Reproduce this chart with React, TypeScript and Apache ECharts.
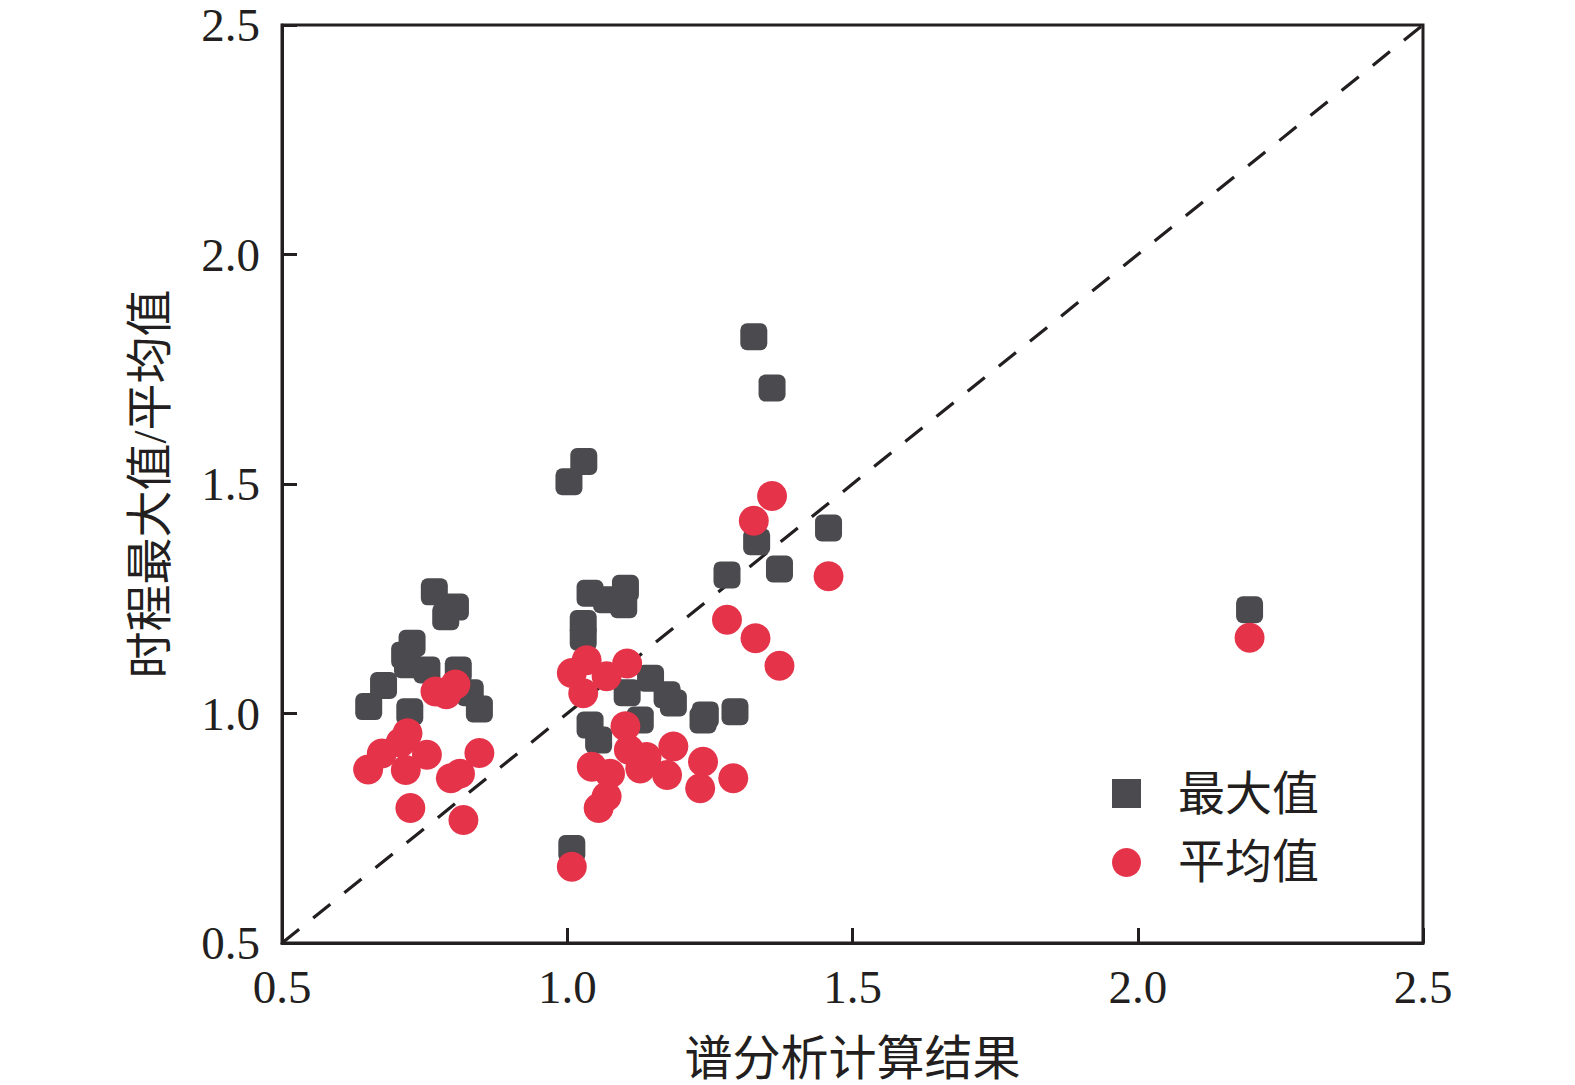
import React, { useEffect, useRef } from "react";
import * as echarts from "echarts";

const xTicks = [0.5, 1.0, 1.5, 2.0, 2.5];
const seriesNames = ["最大值", "平均值"];

const maxValues: [number, number][] = [
  [0.652, 1.015], [0.678, 1.061], [0.715, 1.127], [0.720, 1.106], [0.728, 1.153],
  [0.724, 1.004], [0.754, 1.095], [0.767, 1.265], [0.787, 1.211], [0.804, 1.232],
  [0.809, 1.095], [0.830, 1.045], [0.846, 1.010],
  [1.003, 1.505], [1.029, 1.549], [1.008, 0.706], [1.028, 1.196], [1.028, 1.166],
  [1.040, 1.262], [1.069, 1.248], [1.102, 1.273], [1.099, 1.237], [1.040, 0.975],
  [1.055, 0.942], [1.105, 1.045], [1.128, 0.986], [1.146, 1.077], [1.175, 1.041],
  [1.186, 1.023], [1.238, 0.986], [1.242, 0.997], [1.294, 1.004], [1.280, 1.302],
  [1.327, 1.821], [1.359, 1.709], [1.332, 1.374], [1.372, 1.315], [1.458, 1.404],
  [2.196, 1.226],
];

const meanValues: [number, number][] = [
  [0.651, 0.878], [0.675, 0.913], [0.717, 0.877], [0.720, 0.957], [0.708, 0.937],
  [0.754, 0.910], [0.725, 0.794], [0.769, 1.048], [0.788, 1.042], [0.804, 1.063],
  [0.796, 0.859], [0.812, 0.869], [0.818, 0.768], [0.846, 0.914],
  [1.008, 0.666], [1.008, 1.088], [1.034, 1.116], [1.028, 1.044], [1.069, 1.081],
  [1.105, 1.109], [1.102, 0.972], [1.108, 0.921], [1.043, 0.884], [1.075, 0.869],
  [1.128, 0.880], [1.139, 0.905], [1.186, 0.928], [1.175, 0.866], [1.238, 0.895],
  [1.233, 0.837], [1.291, 0.859], [1.069, 0.819], [1.055, 0.794], [1.280, 1.204],
  [1.330, 1.164], [1.372, 1.104], [1.327, 1.420], [1.359, 1.474], [1.458, 1.299],
  [2.196, 1.165],
];

const refLine: [number, number][] = [[0.5, 0.5], [2.5, 2.5]];

const SERIF = "'Liberation Serif', 'Times New Roman', 'Noto Sans CJK SC', serif";
const INK = "#231f20";

export default function App() {
  const ref = useRef<HTMLDivElement>(null);
  useEffect(() => {
    document.body.style.margin = "0";
    document.body.style.overflow = "hidden";
    if (!ref.current) return;
    const chart = echarts.init(ref.current, null, { renderer: "svg" });
    chart.setOption({
      animation: false,
      backgroundColor: "#fff",
      grid: {
        left: 282, right: 152, top: 25, bottom: 142,
        outerBoundsMode: "none", containLabel: false,
        show: true, borderColor: INK, borderWidth: 3, backgroundColor: "transparent",
      },
      xAxis: {
        type: "value", min: 0.5, max: 2.5, interval: 0.5,
        name: "谱分析计算结果", nameLocation: "middle", nameGap: 95,
        nameTextStyle: { fontFamily: SERIF, fontSize: 48, lineHeight: 40, color: INK },
        axisLine: { show: true, lineStyle: { color: INK, width: 3 } },
        axisTick: { show: true, inside: true, length: 15, lineStyle: { color: INK, width: 3 } },
        axisLabel: {
          fontFamily: SERIF, fontSize: 47, lineHeight: 40, color: INK, margin: 24,
          formatter: (v: number) => v.toFixed(1),
        },
        splitLine: { show: false },
      },
      yAxis: {
        type: "value", min: 0.5, max: 2.5, interval: 0.5,
        name: "时程最大值/平均值", nameLocation: "middle", nameGap: 112,
        nameTextStyle: { fontFamily: SERIF, fontSize: 47, lineHeight: 40, color: INK },
        axisLine: { show: true, lineStyle: { color: INK, width: 3 } },
        axisTick: { show: true, inside: true, length: 15, lineStyle: { color: INK, width: 3 } },
        axisLabel: {
          fontFamily: SERIF, fontSize: 47, lineHeight: 40, color: INK, margin: 22,
          formatter: (v: number) => v.toFixed(1),
        },
        splitLine: { show: false },
      },
      legend: {
        orient: "vertical", left: 1107, top: 765,
        itemWidth: 29, itemHeight: 29, itemGap: 22,
        textStyle: { fontFamily: SERIF, fontSize: 47, color: INK, padding: [0, 0, 0, 32] },
        data: [
          { name: seriesNames[0], icon: "rect" },
          { name: seriesNames[1], icon: "circle" },
        ],
      },
      series: [
        {
          type: "line", data: refLine, symbol: "none", silent: true,
          lineStyle: { color: INK, width: 3.2, type: [22, 18] }, z: 1,
        },
        {
          name: seriesNames[0], type: "scatter", data: maxValues,
          symbol: "roundRect", symbolSize: 27,
          itemStyle: { color: "#4a4a4f", opacity: 1 }, z: 2,
        },
        {
          name: seriesNames[1], type: "scatter", data: meanValues,
          symbol: "circle", symbolSize: 30,
          itemStyle: { color: "#e5334a", opacity: 1 }, z: 3,
        },
      ],
    });
    return () => chart.dispose();
  }, []);
  return (
    <div
      ref={ref}
      style={{ position: "absolute", left: 0, top: 0, width: 1575, height: 1085 }}
    />
  );
}
